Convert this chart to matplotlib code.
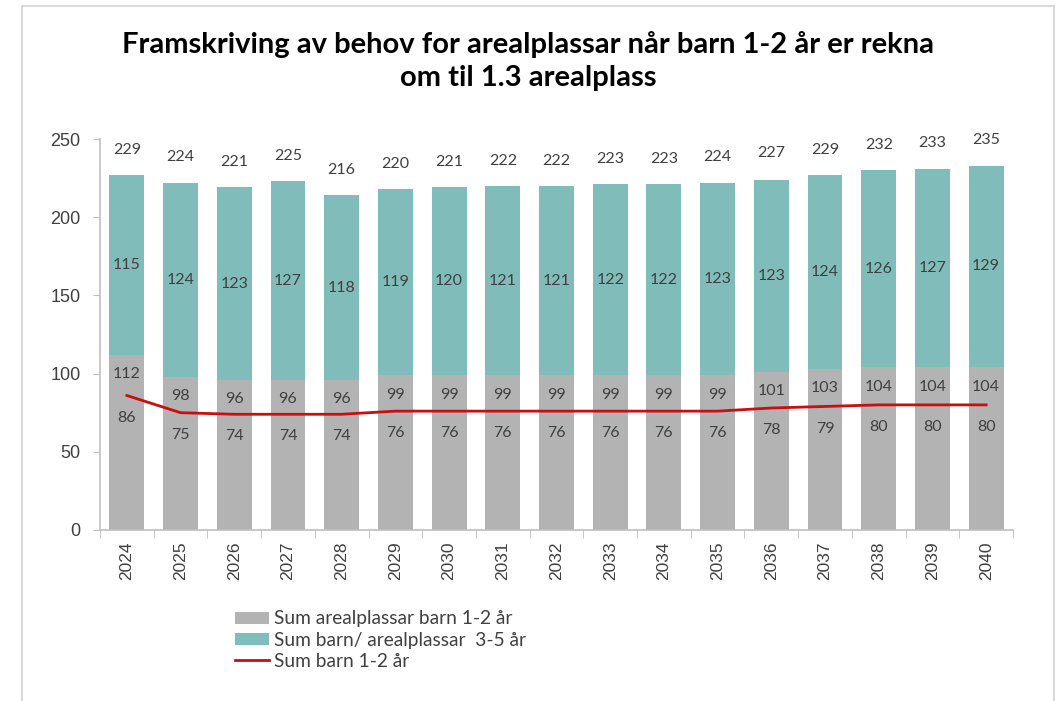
import matplotlib
matplotlib.use("Agg")
import matplotlib.pyplot as plt
from matplotlib.patches import Rectangle, Patch
from matplotlib.lines import Line2D
import numpy as np

years = [str(y) for y in range(2024, 2041)]
areal_1_2 = [112, 98, 96, 96, 96, 99, 99, 99, 99, 99, 99, 99, 101, 103, 104, 104, 104]
barn_3_5 = [115, 124, 123, 127, 118, 119, 120, 121, 121, 122, 122, 123, 123, 124, 126, 127, 129]
totals = [229, 224, 221, 225, 216, 220, 221, 222, 222, 223, 223, 224, 227, 229, 232, 233, 235]
barn_1_2 = [86, 75, 74, 74, 74, 76, 76, 76, 76, 76, 76, 76, 78, 79, 80, 80, 80]

title = "Framskriving av behov for arealplassar når barn 1-2 år er rekna\nom til 1.3 arealplass"
labels = ["Sum arealplassar barn 1-2 år", "Sum barn/ arealplassar  3-5 år", "Sum barn 1-2 år"]

GRAY = "#b3b3b3"
TEAL = "#7fbcba"
RED = "#c80f0f"
TXT = "#404040"
LBL_FONT = ["Lato", "DejaVu Sans"]
TICK_FONT = ["Liberation Sans", "DejaVu Sans"]

fig = plt.figure(figsize=(10.56, 7.01), dpi=100)
fig.patches.append(Rectangle((22/1056, -0.05), 1032/1056, 1.05 - 6/701, transform=fig.transFigure,
                             fill=False, edgecolor="#d9d9d9", linewidth=1.5))

ax = fig.add_axes([100/1056, 1 - 530/701, 913/1056, (530 - 139)/701])
x = np.arange(len(years))
w = 0.65
ax.bar(x, areal_1_2, width=w, color=GRAY, zorder=2)
ax.bar(x, barn_3_5, width=w, bottom=areal_1_2, color=TEAL, zorder=2)
ax.plot(x, barn_1_2, color=RED, linewidth=2, zorder=3)

for i in range(len(years)):
    ax.annotate(str(areal_1_2[i]), (x[i], areal_1_2[i]), xytext=(0, -14), textcoords="offset points",
                ha="center", va="center", fontsize=11.5, color=TXT, family=LBL_FONT)
    ax.annotate(str(barn_3_5[i]), (x[i], areal_1_2[i] + barn_3_5[i] / 2), ha="center", va="center",
                fontsize=11.5, color=TXT, family=LBL_FONT)
    ax.annotate(str(barn_1_2[i]), (x[i], barn_1_2[i]), xytext=(0, -16), textcoords="offset points",
                ha="center", va="center", fontsize=11.5, color=TXT, family=LBL_FONT)
    ax.annotate(str(totals[i]), (x[i], totals[i]), xytext=(0, 16), textcoords="offset points",
                ha="center", va="center", fontsize=11.5, color=TXT, family=LBL_FONT)

ax.set_xlim(-0.5, len(years) - 0.5)
ax.set_ylim(0, 250)
ax.set_yticks(range(0, 251, 50))
ax.set_xticks(x)
ax.set_xticklabels(years, rotation=90, family=TICK_FONT, fontsize=12.5, color=TXT)
for t in ax.get_yticklabels():
    t.set_family(TICK_FONT)
ax.tick_params(axis="y", labelsize=13, labelcolor=TXT, color="#bfbfbf", length=5, pad=9)
ax.tick_params(axis="x", length=0, pad=8)
ax.set_xticks(np.arange(-0.5, len(years), 1), minor=True)
ax.tick_params(axis="x", which="minor", length=6, color="#bfbfbf", direction="out")
for s in ["top", "right"]:
    ax.spines[s].set_visible(False)
for s in ["left", "bottom"]:
    ax.spines[s].set_color("#bfbfbf")
    ax.spines[s].set_linewidth(1.2)

fig.text(0.5, 1 - 61/701, title, ha="center", va="center", fontsize=21, fontweight="bold",
         family=LBL_FONT, color="#000000", linespacing=1.3)

handles = [Patch(facecolor=GRAY, edgecolor="none"), Patch(facecolor=TEAL, edgecolor="none"),
           Line2D([0], [0], color=RED, linewidth=2)]
leg = fig.legend(handles, labels, loc="upper left", bbox_to_anchor=(222/1056, 1 - 597/701),
                 frameon=False, prop={"family": LBL_FONT, "size": 13.8},
                 handlelength=1.75, handleheight=0.6, handletextpad=0.25, labelspacing=0.22, borderpad=0.2)
for t in leg.get_texts():
    t.set_color(TXT)

fig.savefig("out.png", dpi=100, facecolor="white")
